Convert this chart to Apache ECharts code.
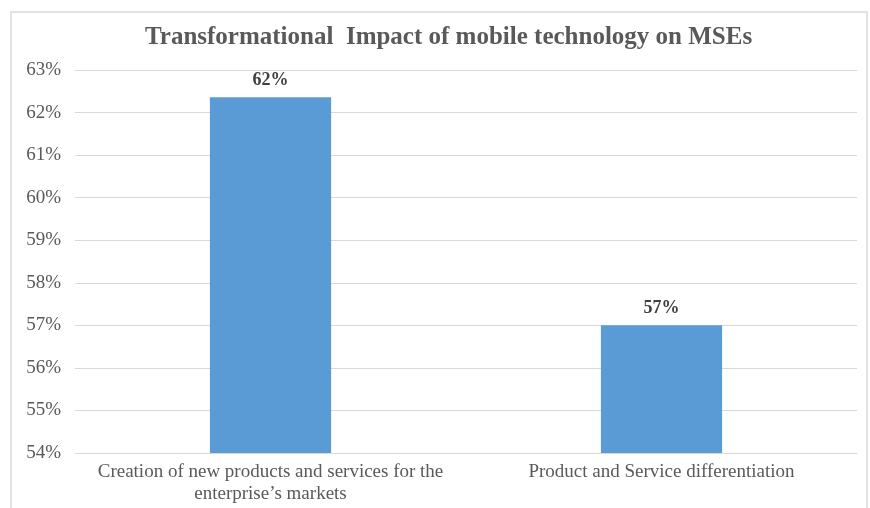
<!DOCTYPE html>
<html>
<head>
<meta charset="utf-8">
<script src="https://cdn.jsdelivr.net/npm/echarts@6/dist/echarts.min.js"></script>
<style>
html,body{margin:0;padding:0;background:#fff;}
#main{width:870px;height:508px;}
</style>
</head>
<body>
<div id="main"></div>
<script>
const titleText = 'Transformational  Impact of mobile technology on MSEs';
const categories = ['Creation of new products and services for the\nenterprise\u2019s markets', 'Product and Service differentiation'];
const values = [62.36, 57.0];
const valueLabels = ['62%', '57%'];
const yMin = 54, yMax = 63, yStep = 1;

const chart = echarts.init(document.getElementById('main'));
chart.setOption({
  animation: false,
  backgroundColor: '#fff',
  title: {
    text: titleText,
    left: 140,
    top: 20,
    textStyle: {fontFamily: 'Liberation Serif', fontWeight: 'bold', fontSize: 25, color: '#595959'}
  },
  graphic: [{
    type: 'rect',
    shape: {x: 11, y: 12, width: 856, height: 520},
    style: {fill: 'none', stroke: '#d9d9d9', lineWidth: 1.5},
    silent: true
  }],
  grid: {left: 75, right: 13, top: 70, bottom: 55, containLabel: false},
  xAxis: {
    type: 'category',
    data: categories,
    axisLine: {show: true, lineStyle: {color: '#d9d9d9'}},
    axisTick: {show: false},
    axisLabel: {fontFamily: 'Liberation Serif', fontSize: 19, color: '#595959', lineHeight: 22, margin: 8, interval: 0}
  },
  yAxis: {
    type: 'value',
    min: yMin, max: yMax, interval: yStep,
    axisLine: {show: false},
    axisTick: {show: false},
    splitLine: {lineStyle: {color: '#d9d9d9'}},
    axisLabel: {formatter: v => v + '%', fontFamily: 'Liberation Serif', fontSize: 19, color: '#595959', margin: 14}
  },
  series: [{
    type: 'bar',
    data: values,
    barWidth: '31%',
    itemStyle: {color: '#5B9BD5'},
    label: {
      show: true, position: 'top', distance: 8,
      formatter: p => valueLabels[p.dataIndex],
      fontFamily: 'Liberation Serif', fontSize: 18, fontWeight: 'bold', color: '#404040'
    }
  }]
});
</script>
</body>
</html>
